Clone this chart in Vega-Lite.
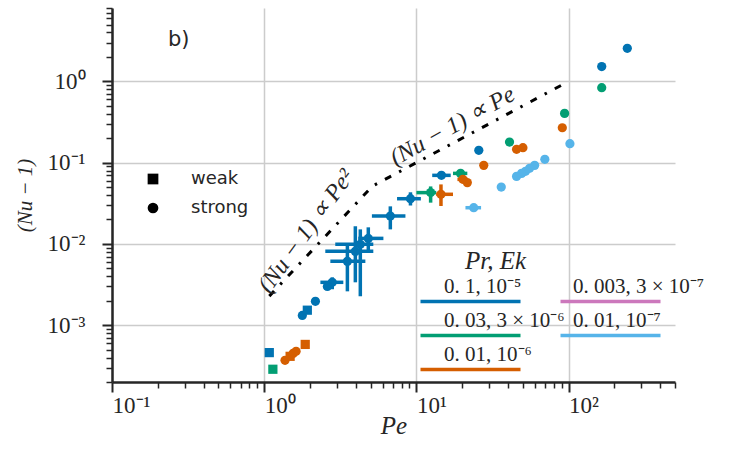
{
  "$schema": "https://vega.github.io/schema/vega-lite/v6.json",
  "width": 563,
  "height": 374,
  "autosize": {"type": "none"},
  "padding": {"left": 112, "top": 8, "right": 75, "bottom": 68},
  "background": "white",
  "datasets": {
    "points": [
      {"Pe": 243, "Nu": 2.55, "series": "0. 1, 10⁻⁵", "type": "strong"},
      {"Pe": 165, "Nu": 1.52, "series": "0. 1, 10⁻⁵", "type": "strong"},
      {"Pe": 25.7, "Nu": 0.142, "series": "0. 1, 10⁻⁵", "type": "strong"},
      {"Pe": 14.6, "Nu": 0.0698, "series": "0. 1, 10⁻⁵", "type": "strong", "PeLo": 12.7, "PeHi": 16.8},
      {"Pe": 9.14, "Nu": 0.036, "series": "0. 1, 10⁻⁵", "type": "strong", "PeLo": 7.46, "PeHi": 10.7, "NuLo": 0.0297, "NuHi": 0.0432},
      {"Pe": 6.74, "Nu": 0.022, "series": "0. 1, 10⁻⁵", "type": "strong", "PeLo": 5.1, "PeHi": 8.47, "NuLo": 0.0151, "NuHi": 0.029},
      {"Pe": 4.83, "Nu": 0.0117, "series": "0. 1, 10⁻⁵", "type": "strong", "PeLo": 4.15, "PeHi": 6.07, "NuLo": 0.0081, "NuHi": 0.016},
      {"Pe": 4.28, "Nu": 0.0099, "series": "0. 1, 10⁻⁵", "type": "strong", "PeLo": 2.93, "PeHi": 5.21, "NuLo": 0.00227, "NuHi": 0.0151},
      {"Pe": 3.97, "Nu": 0.0081, "series": "0. 1, 10⁻⁵", "type": "strong", "PeLo": 2.52, "PeHi": 5.21, "NuLo": 0.00337, "NuHi": 0.0165},
      {"Pe": 3.52, "Nu": 0.0061, "series": "0. 1, 10⁻⁵", "type": "strong", "PeLo": 2.72, "PeHi": 4.62, "NuLo": 0.00261, "NuHi": 0.0099},
      {"Pe": 2.8, "Nu": 0.00337, "series": "0. 1, 10⁻⁵", "type": "strong", "PeLo": 2.34, "PeHi": 3.31, "NuLo": 0.00277, "NuHi": 0.00388},
      {"Pe": 2.6, "Nu": 0.003, "series": "0. 1, 10⁻⁵", "type": "strong"},
      {"Pe": 2.17, "Nu": 0.00197, "series": "0. 1, 10⁻⁵", "type": "strong"},
      {"Pe": 1.78, "Nu": 0.00132, "series": "0. 1, 10⁻⁵", "type": "strong"},
      {"Pe": 1.92, "Nu": 0.00153, "series": "0. 1, 10⁻⁵", "type": "weak"},
      {"Pe": 1.08, "Nu": 0.00046, "series": "0. 1, 10⁻⁵", "type": "weak"},
      {"Pe": 165, "Nu": 0.836, "series": "0. 03, 3 × 10⁻⁶", "type": "strong"},
      {"Pe": 94.1, "Nu": 0.404, "series": "0. 03, 3 × 10⁻⁶", "type": "strong"},
      {"Pe": 40.9, "Nu": 0.179, "series": "0. 03, 3 × 10⁻⁶", "type": "strong"},
      {"Pe": 19.5, "Nu": 0.0738, "series": "0. 03, 3 × 10⁻⁶", "type": "strong", "PeLo": 17.4, "PeHi": 21.6},
      {"Pe": 12.4, "Nu": 0.0428, "series": "0. 03, 3 × 10⁻⁶", "type": "strong", "PeLo": 10.0, "PeHi": 13.5, "NuLo": 0.0322, "NuHi": 0.051},
      {"Pe": 1.14, "Nu": 0.000287, "series": "0. 03, 3 × 10⁻⁶", "type": "weak"},
      {"Pe": 90.9, "Nu": 0.269, "series": "0. 01, 10⁻⁶", "type": "strong"},
      {"Pe": 50.1, "Nu": 0.153, "series": "0. 01, 10⁻⁶", "type": "strong"},
      {"Pe": 45.5, "Nu": 0.146, "series": "0. 01, 10⁻⁶", "type": "strong"},
      {"Pe": 27.7, "Nu": 0.0926, "series": "0. 01, 10⁻⁶", "type": "strong"},
      {"Pe": 20.2, "Nu": 0.0623, "series": "0. 01, 10⁻⁶", "type": "strong", "PeLo": 18.6, "PeHi": 21.8, "NuLo": 0.056, "NuHi": 0.069},
      {"Pe": 21.6, "Nu": 0.0568, "series": "0. 01, 10⁻⁶", "type": "strong"},
      {"Pe": 14.5, "Nu": 0.0408, "series": "0. 01, 10⁻⁶", "type": "strong", "PeLo": 13.5, "PeHi": 17.4, "NuLo": 0.0293, "NuHi": 0.054},
      {"Pe": 1.37, "Nu": 0.00037, "series": "0. 01, 10⁻⁶", "type": "strong"},
      {"Pe": 1.55, "Nu": 0.00045, "series": "0. 01, 10⁻⁶", "type": "strong"},
      {"Pe": 1.62, "Nu": 0.000478, "series": "0. 01, 10⁻⁶", "type": "strong"},
      {"Pe": 1.86, "Nu": 0.00058, "series": "0. 01, 10⁻⁶", "type": "weak"},
      {"Pe": 1.48, "Nu": 0.000414, "series": "0. 01, 10⁻⁶", "type": "weak"},
      {"Pe": 102, "Nu": 0.171, "series": "0. 01, 10⁻⁷", "type": "strong"},
      {"Pe": 69.8, "Nu": 0.11, "series": "0. 01, 10⁻⁷", "type": "strong"},
      {"Pe": 59.8, "Nu": 0.0926, "series": "0. 01, 10⁻⁷", "type": "strong"},
      {"Pe": 55.4, "Nu": 0.0851, "series": "0. 01, 10⁻⁷", "type": "strong"},
      {"Pe": 52.1, "Nu": 0.0782, "series": "0. 01, 10⁻⁷", "type": "strong"},
      {"Pe": 49.1, "Nu": 0.0738, "series": "0. 01, 10⁻⁷", "type": "strong"},
      {"Pe": 45.5, "Nu": 0.0678, "series": "0. 01, 10⁻⁷", "type": "strong"},
      {"Pe": 36.1, "Nu": 0.0501, "series": "0. 01, 10⁻⁷", "type": "strong"},
      {"Pe": 23.8, "Nu": 0.0279, "series": "0. 01, 10⁻⁷", "type": "strong", "PeLo": 21.0, "PeHi": 26.6}
    ],
    "scaling": [
      {"Pe": 1.08, "Nu": 0.00228},
      {"Pe": 5.13, "Nu": 0.0513},
      {"Pe": 100, "Nu": 1.0}
    ],
    "panel": [{"Pe": 0.233, "Nu": 2.7, "label": "b)"}],
    "law2": [{"Pe": 1.89, "Nu": 0.0143, "label": "(Nu − 1) ∝ Pe²"}],
    "law1": [{"Pe": 17.3, "Nu": 0.28, "label": "(Nu − 1) ∝ Pe"}]
  },
  "layer": [
    {
      "data": {"name": "scaling"},
      "mark": {"type": "line", "color": "black", "strokeWidth": 3, "strokeDash": [7, 9, 2.5, 9], "strokeCap": "butt"},
      "encoding": {
        "x": {"field": "Pe", "type": "quantitative", "scale": {"type": "log", "domain": [0.1, 500], "nice": false},
          "axis": {
            "values": [0.1,0.2,0.3,0.4,0.5,0.6,0.7,0.8,0.9,1,2,3,4,5,6,7,8,9,10,20,30,40,50,60,70,80,90,100,200,300,400,500],
            "orient": "bottom",
            "labelExpr": "abs(datum.value - 0.1) < 1e-9 ? '10⁻¹' : datum.value == 1 ? '10⁰' : datum.value == 10 ? '10¹' : datum.value == 100 ? '10²' : ''",
            "labelAlign": "left", "labelPadding": 2, "labelFlush": false, "labelOverlap": false,
            "grid": true, "gridColor": "#cccccc", "gridWidth": 1.5,
            "gridOpacity": {"condition": {"test": "abs(log(datum.value)/LN10 - round(log(datum.value)/LN10)) < 0.001", "value": 1}, "value": 0},
            "domain": true, "domainColor": "#262626", "domainWidth": 2.5,
            "tickSize": {"condition": {"test": "abs(log(datum.value)/LN10 - round(log(datum.value)/LN10)) < 0.001", "value": 10}, "value": 6},
            "tickWidth": {"condition": {"test": "abs(log(datum.value)/LN10 - round(log(datum.value)/LN10)) < 0.001", "value": 2}, "value": 1.5},
            "tickColor": "#262626",
            "title": "Pe", "titleFont": "Liberation Serif", "titleFontStyle": "italic", "titleFontWeight": "normal", "titleFontSize": 25, "titleColor": "#262626", "titlePadding": -4}},
        "y": {"field": "Nu", "type": "quantitative", "scale": {"type": "log", "domain": [0.0002, 8], "nice": false},
          "axis": {
            "values": [0.0002,0.0003,0.0004,0.0005,0.0006,0.0007,0.0008,0.0009,0.001,0.002,0.003,0.004,0.005,0.006,0.007,0.008,0.009,0.01,0.02,0.03,0.04,0.05,0.06,0.07,0.08,0.09,0.1,0.2,0.3,0.4,0.5,0.6,0.7,0.8,0.9,1,2,3,4,5,6,7,8],
            "orient": "left",
            "labelExpr": "abs(datum.value - 1) < 1e-9 ? '10⁰' : abs(datum.value - 0.1) < 1e-9 ? '10⁻¹' : abs(datum.value - 0.01) < 1e-9 ? '10⁻²' : abs(datum.value - 0.001) < 1e-9 ? '10⁻³' : ''",
            "labelPadding": 17, "labelFlush": false, "labelOverlap": false,
            "grid": true, "gridColor": "#cccccc", "gridWidth": 1.5,
            "gridOpacity": {"condition": {"test": "abs(log(datum.value)/LN10 - round(log(datum.value)/LN10)) < 0.001", "value": 1}, "value": 0},
            "domain": true, "domainColor": "#262626", "domainWidth": 2.5,
            "tickSize": {"condition": {"test": "abs(log(datum.value)/LN10 - round(log(datum.value)/LN10)) < 0.001", "value": 10}, "value": 6},
            "tickWidth": {"condition": {"test": "abs(log(datum.value)/LN10 - round(log(datum.value)/LN10)) < 0.001", "value": 2}, "value": 1.5},
            "tickColor": "#262626",
            "title": "(Nu − 1)", "titleFont": "Liberation Serif", "titleFontStyle": "italic", "titleFontWeight": "normal", "titleFontSize": 21, "titleColor": "#262626", "titlePadding": 12}}
      }
    },
    {
      "data": {"name": "points"},
      "transform": [{"filter": "isValid(datum.PeLo)"}],
      "mark": {"type": "rule", "strokeWidth": 3.5},
      "encoding": {
        "x": {"field": "PeLo", "type": "quantitative", "scale": {"type": "log", "domain": [0.1, 500], "nice": false}},
        "x2": {"field": "PeHi"},
        "y": {"field": "Nu", "type": "quantitative", "scale": {"type": "log", "domain": [0.0002, 8], "nice": false}},
        "color": {"field": "series", "type": "nominal",
          "scale": {"domain": ["0. 1, 10⁻⁵", "0. 03, 3 × 10⁻⁶", "0. 01, 10⁻⁶", "0. 003, 3 × 10⁻⁷", "0. 01, 10⁻⁷"], "range": ["#0173b2", "#029e73", "#d55e00", "#cc78bc", "#56b4e9"]},
          "legend": {"orient": "none", "legendX": 298, "legendY": 241, "values": ["0. 1, 10⁻⁵", "0. 03, 3 × 10⁻⁶", "0. 01, 10⁻⁶"], "rowPadding": 0, "padding": 0,
            "title": "Pr, Ek", "titleFont": "Liberation Serif", "titleFontStyle": "italic", "titleFontWeight": "normal", "titleFontSize": 25, "titleColor": "#262626", "titlePadding": 17,
            "symbolType": "M0,0H20", "symbolSize": 100, "symbolStrokeWidth": 3.5,
            "labelFont": "Liberation Serif", "labelFontSize": 21, "labelColor": "#262626", "labelOffset": 13, "labelBaseline": "alphabetic",
            "encode": {"labels": {"update": {"dy": {"value": -9}}}, "title": {"update": {"dx": {"value": 55}}}}}
        }
      }
    },
    {
      "data": {"name": "points"},
      "transform": [{"filter": "isValid(datum.NuLo)"}],
      "mark": {"type": "rule", "strokeWidth": 3.5},
      "encoding": {
        "x": {"field": "Pe", "type": "quantitative", "scale": {"type": "log", "domain": [0.1, 500], "nice": false}},
        "y": {"field": "NuLo", "type": "quantitative", "scale": {"type": "log", "domain": [0.0002, 8], "nice": false}},
        "y2": {"field": "NuHi"},
        "stroke": {"field": "series", "type": "nominal",
          "scale": {"domain": ["0. 003, 3 × 10⁻⁷", "0. 01, 10⁻⁷", "0. 1, 10⁻⁵", "0. 03, 3 × 10⁻⁶", "0. 01, 10⁻⁶"], "range": ["#cc78bc", "#56b4e9", "#0173b2", "#029e73", "#d55e00"]},
          "legend": {"orient": "none", "legendX": 438, "legendY": 283, "values": ["0. 003, 3 × 10⁻⁷", "0. 01, 10⁻⁷"], "rowPadding": 0, "padding": 0, "title": null,
            "symbolType": "M0,0H20", "symbolSize": 100, "symbolStrokeWidth": 3.5,
            "labelFont": "Liberation Serif", "labelFontSize": 21, "labelColor": "#262626", "labelOffset": 2, "labelBaseline": "alphabetic",
            "encode": {"labels": {"update": {"dy": {"value": -9}}}}}
        }
      }
    },
    {
      "data": {"name": "points"},
      "mark": {"type": "point", "filled": true, "opacity": 1, "strokeWidth": 0, "size": 85},
      "encoding": {
        "x": {"field": "Pe", "type": "quantitative", "scale": {"type": "log", "domain": [0.1, 500], "nice": false}},
        "y": {"field": "Nu", "type": "quantitative", "scale": {"type": "log", "domain": [0.0002, 8], "nice": false}},
        "color": {"field": "series", "type": "nominal", "legend": null},
        "shape": {"field": "type", "type": "nominal", "scale": {"domain": ["weak", "strong"], "range": ["square", "circle"]},
          "legend": {"orient": "none", "legendX": 32, "legendY": 162, "title": null, "padding": 0, "rowPadding": 11, "symbolSize": 115, "symbolFillColor": "black", "symbolStrokeColor": "black", "symbolStrokeWidth": 0, "labelFont": "DejaVu Sans", "labelFontSize": 18, "labelColor": "#262626", "labelOffset": 29}}
      }
    },
    {
      "data": {"name": "panel"},
      "mark": {"type": "text", "font": "DejaVu Sans", "fontSize": 21, "align": "left", "baseline": "alphabetic", "color": "#262626"},
      "encoding": {
        "x": {"field": "Pe", "type": "quantitative", "scale": {"type": "log", "domain": [0.1, 500], "nice": false}},
        "y": {"field": "Nu", "type": "quantitative", "scale": {"type": "log", "domain": [0.0002, 8], "nice": false}},
        "text": {"field": "label"}
      }
    },
    {
      "data": {"name": "law2"},
      "mark": {"type": "text", "font": "Liberation Serif", "fontStyle": "italic", "fontSize": 24, "align": "center", "baseline": "middle", "angle": 306, "color": "#262626"},
      "encoding": {
        "x": {"field": "Pe", "type": "quantitative", "scale": {"type": "log", "domain": [0.1, 500], "nice": false}},
        "y": {"field": "Nu", "type": "quantitative", "scale": {"type": "log", "domain": [0.0002, 8], "nice": false}},
        "text": {"field": "label"}
      }
    },
    {
      "data": {"name": "law1"},
      "mark": {"type": "text", "font": "Liberation Serif", "fontStyle": "italic", "fontSize": 24, "align": "center", "baseline": "middle", "angle": 331, "color": "#262626"},
      "encoding": {
        "x": {"field": "Pe", "type": "quantitative", "scale": {"type": "log", "domain": [0.1, 500], "nice": false}},
        "y": {"field": "Nu", "type": "quantitative", "scale": {"type": "log", "domain": [0.0002, 8], "nice": false}},
        "text": {"field": "label"}
      }
    }
  ],
  "config": {
    "view": {"stroke": null},
    "axis": {"labelFont": "Liberation Serif", "labelFontSize": 23, "labelColor": "#262626"}
  }
}
